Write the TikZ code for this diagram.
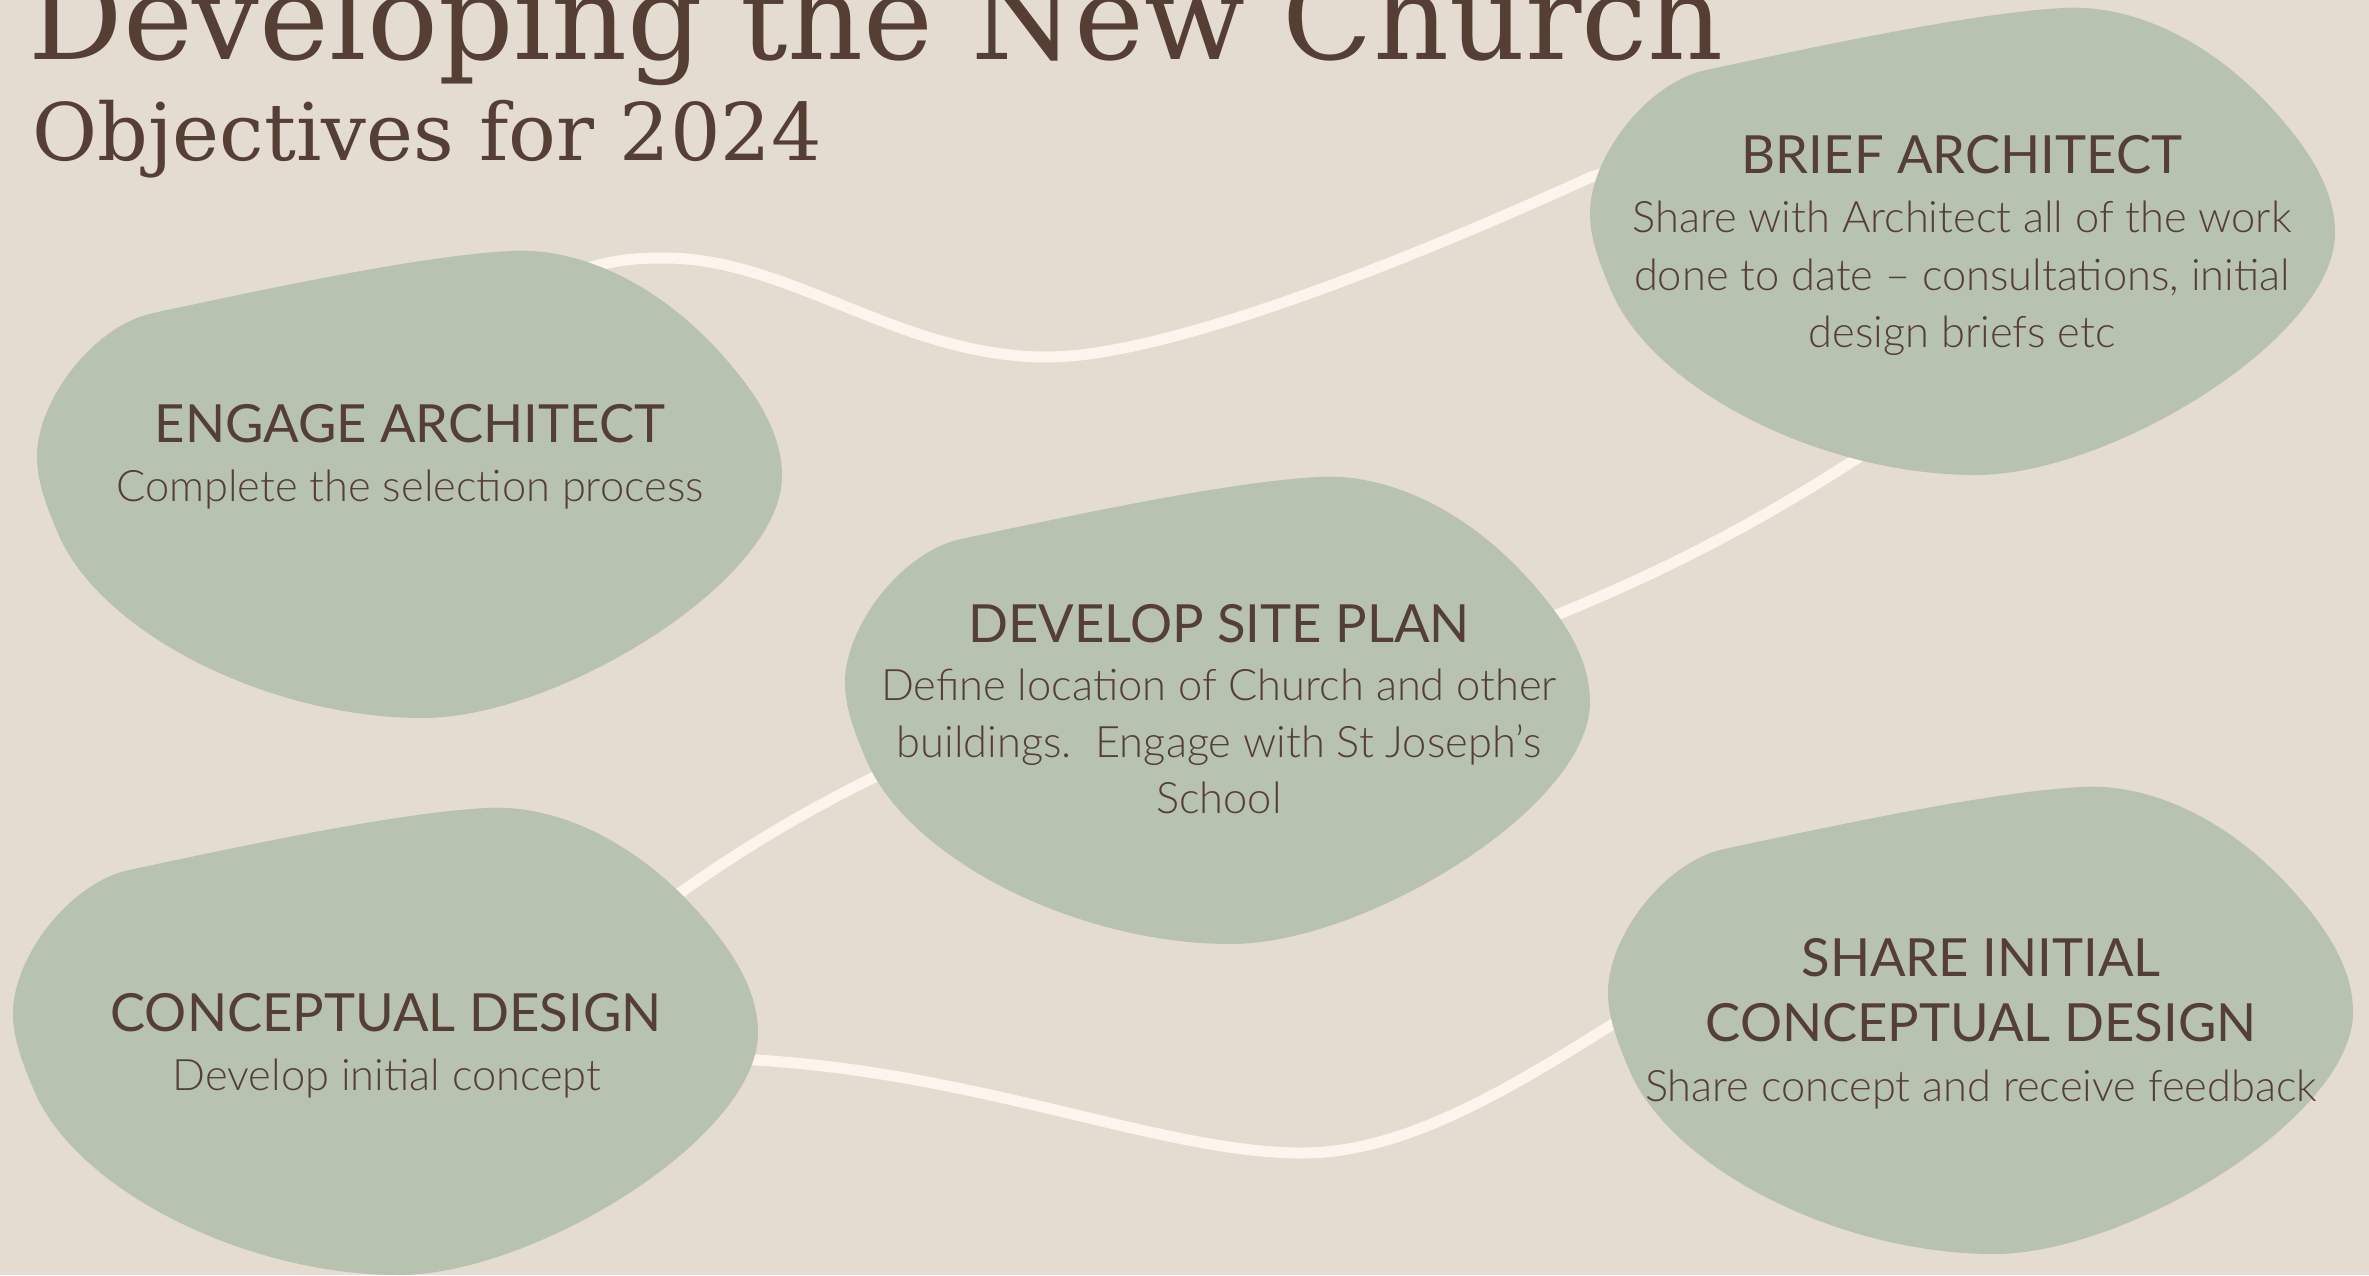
\documentclass[tikz,border=0pt]{standalone}
\usepackage{fontspec}
\setmainfont{DejaVu Serif}
\newfontfamily\headfont{Lato}
\IfFontExistsTF{Lato Light}{\newfontfamily\bodyfont{Lato Light}}{\newfontfamily\bodyfont{Lato}}
\definecolor{bgcol}{HTML}{E4DBD1}
\definecolor{blobcol}{HTML}{B7C2B0}
\definecolor{inkcol}{HTML}{553F35}
\definecolor{linkcol}{HTML}{FDF4EE}
\tikzset{
  blob/.pic={\fill[blobcol] (0,205) .. controls (0,150) and (56,75) .. (116,62)
    .. controls (220,40) and (380,5) .. (473,0)
    .. controls (540,-4) and (620,30) .. (687,106)
    .. controls (717,140) and (745,180) .. (745,225)
    .. controls (745,330) and (520,467) .. (386,467)
    .. controls (230,467) and (60,380) .. (20,280)
    .. controls (5,245) and (0,225) .. (0,205) -- cycle;},
  link/.style={draw=linkcol, line width=5.5pt, line cap=round},
  headtxt/.style={text=inkcol, inner sep=0pt, anchor=base, font=\headfont\fontsize{26.3}{30}\selectfont},
  bodytxt/.style={text=inkcol, inner sep=0pt, anchor=base, font=\bodyfont\fontsize{21.7}{26}\selectfont},
}
\begin{document}
\begin{tikzpicture}[x=0.5pt,y=-0.5pt]
\useasboundingbox (0,0) rectangle (2369,1275);
\clip (0,0) rectangle (2369,1275);
\fill[bgcol] (0,0) rectangle (2369,1275);

% connector end points (inside the blobs)
\coordinate (l1a) at (540,285);
\coordinate (l1b) at (1690,158);
\coordinate (l2a) at (1930,410);
\coordinate (l2b) at (1480,645);
\coordinate (l3a) at (950,742);
\coordinate (l3b) at (630,930);
\coordinate (l4a) at (690,1058);
\coordinate (l4b) at (1690,975);

\draw[link] (l1a) .. controls (600,262) and (620,258) .. (665,258)
  .. controls (790,258) and (900,357) .. (1047,357)
  .. controls (1170,357) and (1420,255) .. (1591,177)
  .. controls (1630,165) .. (l1b);
\draw[link] (l2a) .. controls (1790,505) and (1680,570) .. (l2b);
\draw[link] (l3a) .. controls (840,790) and (740,845) .. (l3b);
\draw[link] (l4a) .. controls (950,1058) and (1150,1153) .. (1302,1153)
  .. controls (1420,1153) and (1540,1070) .. (l4b);

% blobs
\pic (engage) at (37,251) {blob};
\pic (brief) at (1590,8) {blob};
\pic (site) at (845,477) {blob};
\pic (concept) at (13,808) {blob};
\pic (share) at (1608,787) {blob};

% title
\node[text=inkcol, inner sep=0pt, anchor=base west, font=\fontsize{59}{70}\selectfont] (title) at (28,59) {Developing the New Church};
\node[text=inkcol, inner sep=0pt, anchor=base west, font=\fontsize{39.7}{48}\selectfont] (subtitle) at (32,160) {Objectives for 2024};

% ENGAGE ARCHITECT
\node[headtxt] (engageh) at (410,442) {ENGAGE ARCHITECT};
\node[bodytxt] (engageb) at (410,501) {Complete the selection process};

% BRIEF ARCHITECT
\node[headtxt] (briefh) at (1962,173) {BRIEF ARCHITECT};
\node[bodytxt] (briefb1) at (1962,232) {Share with Architect all of the work};
\node[bodytxt] (briefb2) at (1962,290) {done to date \textendash{} consultations, initial};
\node[bodytxt] (briefb3) at (1962,347) {design briefs etc};

% DEVELOP SITE PLAN
\node[headtxt] (siteh) at (1219,642) {DEVELOP SITE PLAN};
\node[bodytxt] (siteb1) at (1219,700) {Define location of Church and other};
\node[bodytxt] (siteb2) at (1219,757) {buildings.\ \ Engage with St Joseph’s};
\node[bodytxt] (siteb3) at (1219,813) {School};

% CONCEPTUAL DESIGN
\node[headtxt] (concepth) at (386,1031) {CONCEPTUAL DESIGN};
\node[bodytxt] (conceptb) at (387,1090) {Develop initial concept};

% SHARE INITIAL CONCEPTUAL DESIGN
\node[headtxt] (shareh1) at (1981,976) {SHARE INITIAL};
\node[headtxt] (shareh2) at (1981,1041) {CONCEPTUAL DESIGN};
\node[bodytxt] (shareb) at (1981,1101) {Share concept and receive feedback};
\end{tikzpicture}
\end{document}
